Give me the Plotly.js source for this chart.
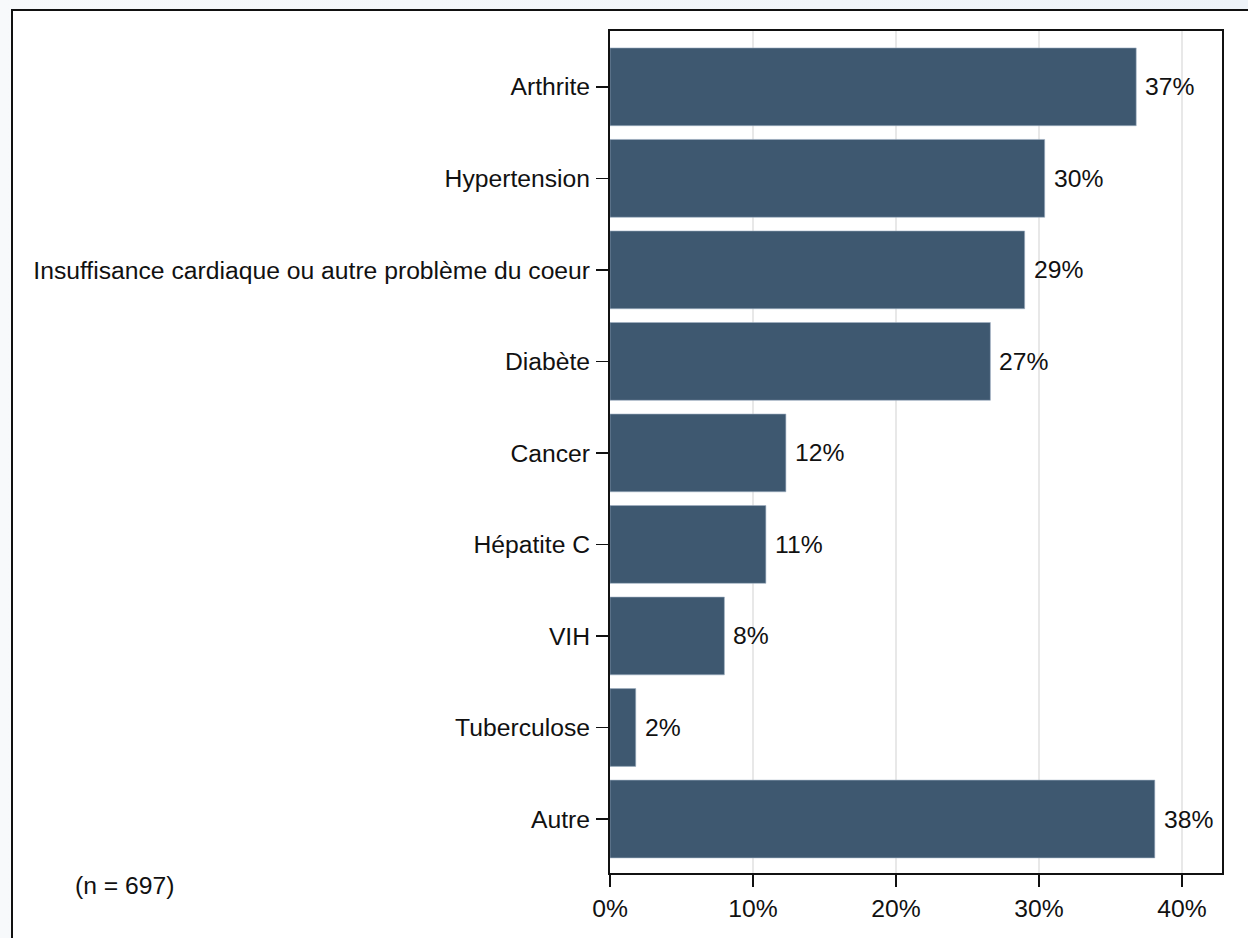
<!DOCTYPE html>
<html>
<head>
<meta charset="utf-8">
<script src="https://cdn.plot.ly/plotly-3.0.1.min.js"></script>
<style>
  html, body { margin: 0; padding: 0; width: 1248px; height: 938px; overflow: hidden; }
  body { background: linear-gradient(to right, #f7f9fb, #eef3f8); position: relative; font-family: "Liberation Sans", Arial, sans-serif; }
  #frame { position: absolute; left: 11px; top: 9px; width: 1300px; height: 1000px; background: #fff; border-left: 2px solid #111; border-top: 2px solid #111; }
  #chart { position: absolute; left: 0; top: 0; width: 1248px; height: 938px; }
</style>
</head>
<body>
<div id="frame"></div>
<div id="chart"></div>
<script>
const categories = ["Arthrite", "Hypertension", "Insuffisance cardiaque ou autre problème du coeur", "Diabète", "Cancer", "Hépatite C", "VIH", "Tuberculose", "Autre"];
const values = [36.8, 30.4, 29.0, 26.6, 12.3, 10.9, 8.0, 1.8, 38.1];
const labels = ["37%", "30%", "29%", "27%", "12%", "11%", "8%", "2%", "38%"];
const xTickVals = [0, 10, 20, 30, 40];
const xTickText = ["0%", "10%", "20%", "30%", "40%"];
const noteText = "(n = 697)";

const FONT = "Liberation Sans, Arial, sans-serif";
const FS = 24.7;

const trace = {
  type: "bar",
  orientation: "h",
  x: values,
  y: categories,
  width: 0.85,
  marker: { color: "#3e5870", line: { color: "#9fb0c2", width: 0.6 } },
  hoverinfo: "none"
};

const annotations = categories.map((c, i) => ({
  x: values[i], y: c, xref: "x", yref: "y",
  text: labels[i], showarrow: false, xanchor: "left", yanchor: "middle",
  xshift: 7, font: { family: FONT, size: FS, color: "#111" }
}));
annotations.push({
  x: -0.877, y: -0.0145, xref: "paper", yref: "paper",
  text: noteText, showarrow: false, xanchor: "left", yanchor: "middle",
  font: { family: FONT, size: FS, color: "#111" }
});

const layout = {
  width: 1248, height: 938,
  margin: { l: 610, r: 26, t: 31, b: 65, pad: 0 },
  paper_bgcolor: "rgba(0,0,0,0)",
  plot_bgcolor: "#ffffff",
  showlegend: false,
  font: { family: FONT, size: FS, color: "#111" },
  xaxis: {
    range: [0, 42.8],
    tickvals: xTickVals, ticktext: xTickText,
    showgrid: true, gridcolor: "#e8e8e8", gridwidth: 1.5,
    zeroline: false,
    showline: true, linecolor: "#111", linewidth: 2, mirror: true,
    ticks: "outside", ticklen: 12, tickwidth: 1.5, tickcolor: "#111",
    tickfont: { family: FONT, size: FS, color: "#111" },
    fixedrange: true
  },
  yaxis: {
    type: "category",
    categoryorder: "array", categoryarray: categories,
    range: [8.59, -0.61],
    showgrid: false, zeroline: false,
    showline: true, linecolor: "#111", linewidth: 2, mirror: true,
    ticks: "outside", ticklen: 12, tickwidth: 1.5, tickcolor: "#111",
    ticklabelstandoff: 1,
    tickfont: { family: FONT, size: FS, color: "#111" },
    fixedrange: true
  },
  annotations: annotations
};

Plotly.newPlot("chart", [trace], layout, { staticPlot: true, displayModeBar: false });
</script>
</body>
</html>
